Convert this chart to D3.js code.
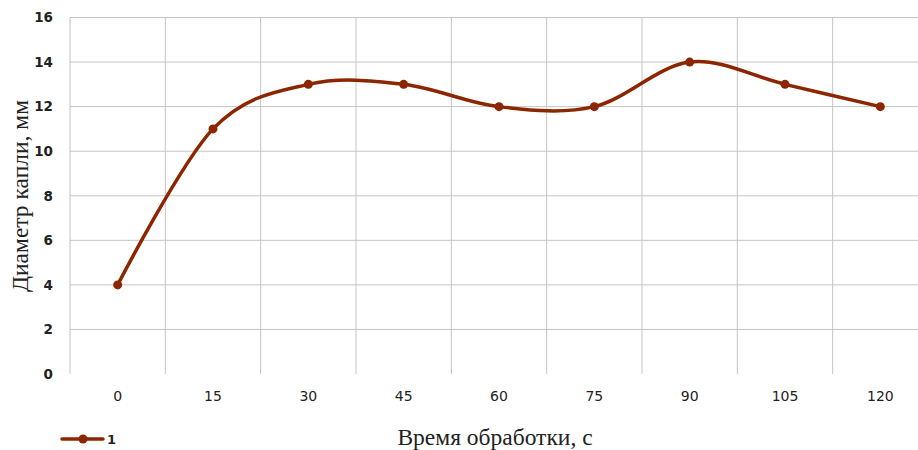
<!DOCTYPE html>
<html>
<head>
<meta charset="utf-8">
<script src="https://cdn.jsdelivr.net/npm/d3@7/dist/d3.min.js"></script>
<style>
  html, body { margin: 0; padding: 0; background: #fff; }
  svg { display: block; }
</style>
</head>
<body>
<svg id="chart" width="918" height="450"></svg>
<script>
// Diameter of the drop vs. treatment time
const times = ["0", "15", "30", "45", "60", "75", "90", "105", "120"];
const diameters = [4, 11, 13, 13, 12, 12, 14, 13, 12];
const yTicks = [0, 2, 4, 6, 8, 10, 12, 14, 16];
const seriesName = "1";
const xTitle = "Время обработки, с";
const yTitle = "Диаметр капли, мм";

const svg = d3.select("#chart");
const plotLeft = 70, plotRight = 928, plotTop = 17.5, plotBottom = 374;
const lineColor = "#8c2600";

const x = d3.scaleBand().domain(times).range([plotLeft, plotRight]);
const y = d3.scaleLinear().domain([0, 16]).range([plotBottom, plotTop]);

// horizontal gridlines
svg.append("g").selectAll("line").data(yTicks.filter(d => d > 0)).join("line")
  .attr("x1", plotLeft).attr("x2", plotRight)
  .attr("y1", d => y(d)).attr("y2", d => y(d))
  .attr("stroke", "#c4c4c4").attr("stroke-width", 1);

// vertical gridlines at band boundaries
const bounds = times.map(t => x(t)).concat([plotRight]);
svg.append("g").selectAll("line").data(bounds).join("line")
  .attr("x1", d => d).attr("x2", d => d)
  .attr("y1", plotTop).attr("y2", plotBottom)
  .attr("stroke", "#c4c4c4").attr("stroke-width", 1);

// y axis labels
const yAxis = d3.axisLeft(y).tickValues(yTicks).tickSize(0).tickPadding(0);
const gy = svg.append("g").attr("transform", `translate(${plotLeft - 17},0)`).call(yAxis);
gy.select(".domain").remove();
gy.selectAll("text")
  .attr("font-family", "DejaVu Sans, Verdana, sans-serif")
  .attr("font-size", 13.5).attr("font-weight", "bold").attr("fill", "#222");

// x axis labels
const xAxis = d3.axisBottom(x).tickSize(0).tickPadding(0);
const gx = svg.append("g").attr("transform", `translate(0,${plotBottom + 17})`).call(xAxis);
gx.select(".domain").remove();
gx.selectAll("text")
  .attr("font-family", "DejaVu Sans, Verdana, sans-serif")
  .attr("font-size", 14).attr("fill", "#222");

// smoothed series line
const line = d3.line()
  .x((d, i) => x(times[i]) + x.bandwidth() / 2)
  .y(d => y(d))
  .curve(d3.curveCardinal.tension(0));

svg.append("path").datum(diameters)
  .attr("d", line)
  .attr("fill", "none")
  .attr("stroke", lineColor)
  .attr("stroke-width", 3.5)
  .attr("stroke-linecap", "round");

svg.append("g").selectAll("circle").data(diameters).join("circle")
  .attr("cx", (d, i) => x(times[i]) + x.bandwidth() / 2)
  .attr("cy", d => y(d))
  .attr("r", 4.5)
  .attr("fill", lineColor);

// axis titles
svg.append("text")
  .attr("x", 495).attr("y", 445)
  .attr("text-anchor", "middle")
  .attr("font-family", "Liberation Serif, Times New Roman, serif")
  .attr("font-size", 23.5).attr("fill", "#222")
  .text(xTitle);

svg.append("text")
  .attr("transform", "translate(28,196) rotate(-90)")
  .attr("text-anchor", "middle")
  .attr("font-family", "Liberation Serif, Times New Roman, serif")
  .attr("font-size", 23.5).attr("fill", "#222")
  .text(yTitle);

// legend
const lg = svg.append("g");
lg.append("line").attr("x1", 62).attr("x2", 103).attr("y1", 439).attr("y2", 439)
  .attr("stroke", lineColor).attr("stroke-width", 3.5).attr("stroke-linecap", "round");
lg.append("circle").attr("cx", 83).attr("cy", 439).attr("r", 4.5).attr("fill", lineColor);
lg.append("text").attr("x", 107).attr("y", 444)
  .attr("font-family", "DejaVu Sans, Verdana, sans-serif")
  .attr("font-size", 13).attr("font-weight", "bold").attr("fill", "#222")
  .text(seriesName);
</script>
</body>
</html>
